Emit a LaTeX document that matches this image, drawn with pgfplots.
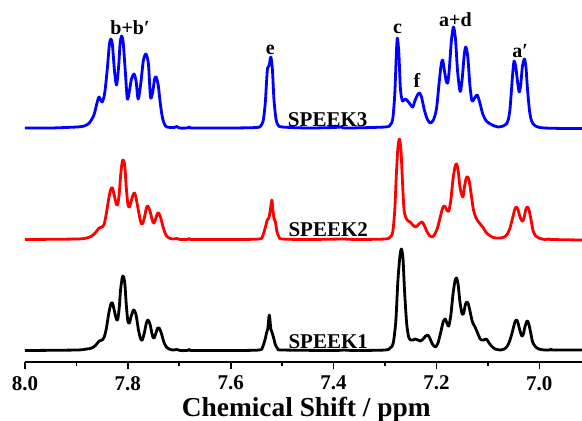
\documentclass[border=0pt]{standalone}
\usepackage{fontspec}
\setmainfont{Liberation Serif}
\usepackage{pgfplots}
\usepackage{pgfplotstable}
\pgfplotsset{compat=1.18}

% heights above each spectrum's baseline (px-like units)
\pgfplotstableread{
x h
8.000 1
7.950 1
7.900 2
7.885 3
7.875 6
7.866 14
7.860 26
7.856 32
7.850 27
7.845 36
7.840 60
7.836 84
7.833 90
7.830 84
7.826 58
7.822 44
7.818 62
7.815 86
7.812 93
7.809 86
7.805 58
7.801 30
7.797 38
7.793 50
7.788 55
7.784 48
7.780 30
7.775 45
7.770 68
7.765 75
7.760 65
7.756 32
7.752 36
7.748 50
7.745 52
7.741 44
7.737 26
7.733 12
7.729 5
7.724 2
7.710 1.5
7.705 2.5
7.700 1
7.685 1
7.680 2
7.675 1
7.600 1
7.550 1.5
7.542 3
7.537 8
7.533 25
7.529 58
7.527 62
7.525 64
7.522 72
7.519 60
7.516 30
7.512 10
7.508 4
7.500 2
7.450 1
7.400 1.5
7.385 2
7.375 1
7.300 2
7.290 4
7.285 10
7.281 35
7.278 75
7.276 91
7.273 75
7.270 40
7.266 28
7.261 30
7.256 28
7.250 24
7.246 22
7.242 28
7.237 34
7.233 36
7.229 32
7.224 20
7.218 10
7.212 6
7.206 9
7.200 20
7.195 45
7.191 64
7.188 69
7.185 60
7.181 48
7.178 46
7.175 60
7.171 88
7.167 102
7.163 90
7.159 58
7.155 40
7.153 38
7.150 50
7.146 74
7.143 82
7.139 72
7.135 44
7.131 28
7.127 30
7.121 34
7.116 27
7.110 15
7.103 8
7.095 5
7.087 3
7.080 2
7.070 3
7.064 5
7.060 10
7.057 20
7.054 40
7.051 60
7.049 68
7.046 63
7.042 46
7.039 37
7.036 45
7.033 62
7.029 70
7.026 62
7.023 40
7.019 18
7.015 8
7.010 4
7.003 2
6.990 1
6.950 0.5
6.917 0.5
}\speekiii

\pgfplotstableread{
x h
8.000 0.5
7.900 1
7.880 2
7.870 4
7.862 8
7.856 12
7.850 13
7.846 16
7.842 26
7.837 42
7.833 51
7.830 52
7.827 46
7.823 37
7.820 35
7.817 45
7.814 65
7.811 78
7.809 80
7.806 74
7.803 52
7.800 36
7.797 33
7.794 38
7.790 45
7.787 47
7.784 42
7.779 28
7.775 18
7.772 16
7.768 22
7.764 32
7.761 34
7.757 29
7.752 19
7.749 17
7.746 21
7.742 27
7.740 27
7.736 22
7.731 12
7.726 5
7.720 2
7.712 1
7.705 1.5
7.698 0.5
7.685 0.5
7.680 1.5
7.675 0.5
7.600 0.5
7.545 1
7.538 4
7.533 12
7.529 20
7.526 22
7.523 30
7.520 40
7.518 30
7.516 22
7.513 18
7.510 8
7.506 3
7.500 1
7.450 0.5
7.380 1
7.360 0.5
7.300 1
7.290 3
7.285 8
7.281 30
7.278 65
7.275 92
7.272 101
7.269 90
7.266 58
7.263 30
7.259 22
7.255 19
7.251 18
7.246 15
7.240 13
7.236 15
7.232 17
7.228 18
7.224 15
7.219 9
7.213 4
7.208 3
7.203 6
7.198 12
7.193 22
7.188 32
7.184 34
7.180 30
7.176 29
7.172 40
7.168 60
7.164 73
7.161 76
7.158 70
7.154 52
7.150 44
7.148 44
7.145 55
7.142 62
7.139 63
7.136 58
7.132 44
7.128 30
7.123 22
7.118 18
7.115 16
7.110 13
7.104 8
7.098 5
7.092 3
7.085 2
7.075 2
7.068 3
7.062 6
7.057 12
7.052 22
7.048 30
7.045 33
7.042 31
7.038 24
7.035 20
7.032 19
7.029 24
7.026 31
7.023 33
7.020 30
7.016 20
7.012 9
7.007 4
7.001 2
6.990 0.5
6.980 1
6.975 0.5
6.917 0
}\speekii

\pgfplotstableread{
x h
8.000 0.5
7.900 1
7.880 2
7.870 3
7.862 6
7.856 10
7.850 11
7.846 14
7.842 22
7.837 38
7.833 47
7.830 48
7.827 42
7.823 33
7.820 31
7.817 42
7.814 62
7.811 73
7.809 75
7.806 68
7.803 46
7.800 30
7.797 28
7.794 34
7.790 40
7.788 41
7.784 36
7.779 20
7.775 12
7.772 11
7.768 18
7.764 28
7.761 31
7.757 27
7.752 15
7.749 13
7.746 17
7.742 23
7.739 23
7.735 18
7.730 9
7.725 4
7.720 2
7.712 1
7.705 1.5
7.698 0.5
7.685 0.5
7.680 1.5
7.675 0.5
7.600 0.5
7.545 1
7.538 4
7.533 12
7.530 19
7.528 22
7.525 36
7.522 22
7.520 19
7.517 14
7.513 6
7.508 2
7.500 1
7.400 0.5
7.380 1
7.360 0.5
7.300 1
7.290 3
7.284 8
7.279 30
7.275 70
7.271 95
7.268 102
7.265 92
7.262 60
7.258 28
7.254 14
7.250 11
7.245 11
7.241 12
7.236 11
7.231 10
7.226 12
7.221 15
7.217 16
7.213 13
7.208 7
7.202 4
7.197 8
7.192 18
7.187 29
7.183 32
7.179 27
7.176 25
7.172 36
7.168 56
7.164 70
7.161 73
7.158 67
7.154 48
7.150 37
7.147 38
7.144 46
7.141 49
7.138 47
7.134 38
7.130 29
7.125 24
7.120 18
7.115 12
7.112 11
7.108 11
7.103 12
7.099 9
7.093 5
7.086 2
7.075 1
7.068 2
7.062 5
7.057 11
7.052 20
7.048 28
7.045 31
7.042 29
7.038 21
7.034 15
7.031 17
7.028 24
7.024 30
7.021 28
7.017 19
7.013 9
7.007 4
7.001 2
6.990 1
6.980 1
6.977 2
6.974 1
6.917 1
}\speeki

\begin{document}
\begin{tikzpicture}[
    peak/.style={font=\bfseries\fontsize{10}{11}\selectfont, anchor=base, inner sep=0pt},
    lbl/.style={font=\bfseries\fontsize{10.5}{12}\selectfont, anchor=base, inner sep=0pt},
]
\begin{axis}[
    scale only axis,
    width=278.5pt, height=181pt,
    x dir=reverse,
    xmin=6.917, xmax=8.0,
    ymin=0, ymax=362,
    axis x line=bottom,
    axis y line=none,
    axis line style={-, line width=0.8pt},
    xtick={7.0,7.2,7.4,7.6,7.8,8.0},
    minor xtick={7.1,7.3,7.5,7.7,7.9},
    tick align=outside,
    major tick length=3.5pt,
    minor tick length=2pt,
    tick style={black, line width=0.8pt},
    xticklabel style={font=\bfseries\fontsize{10.5}{12}\selectfont,
        /pgf/number format/assume math mode=true,
        /pgf/number format/fixed, /pgf/number format/fixed zerofill,
        /pgf/number format/precision=1},
    xlabel={Chemical Shift / ppm},
    xlabel style={font=\bfseries\fontsize{13.7}{15}\selectfont,
        at={(axis description cs:0.505,0)}, anchor=base, yshift=-27.3pt},
    clip=false,
    every axis plot/.append style={line width=1.4pt, smooth, tension=0.45, line join=round},
]
\addplot[black] table[x=x, y expr=\thisrow{h}+11] {\speeki};
\addplot[red] table[x=x, y expr=\thisrow{h}+122] {\speekii};
\addplot[blue] table[x=x, y expr=\thisrow{h}+233] {\speekiii};

\node[peak] at (axis cs:7.7957,328) {b+b′};
\node[peak] at (axis cs:7.523,308) {e};
\node[peak] at (axis cs:7.2755,329) {c};
\node[peak] at (axis cs:7.238,275) {f};
\node[peak] at (axis cs:7.163,336) {a+d};
\node[peak] at (axis cs:7.037,305) {a′};

\node[lbl] at (axis cs:7.4115,236) {SPEEK3};
\node[lbl] at (axis cs:7.4105,125.3) {SPEEK2};
\node[lbl] at (axis cs:7.4105,13.7) {SPEEK1};

\coordinate (bl) at (axis description cs:0,0);
\coordinate (tr) at (axis description cs:1,1);
\end{axis}
\pgfresetboundingbox
\path (bl) ++(-12.5pt,-29pt) rectangle (tr);
\end{tikzpicture}
\end{document}
